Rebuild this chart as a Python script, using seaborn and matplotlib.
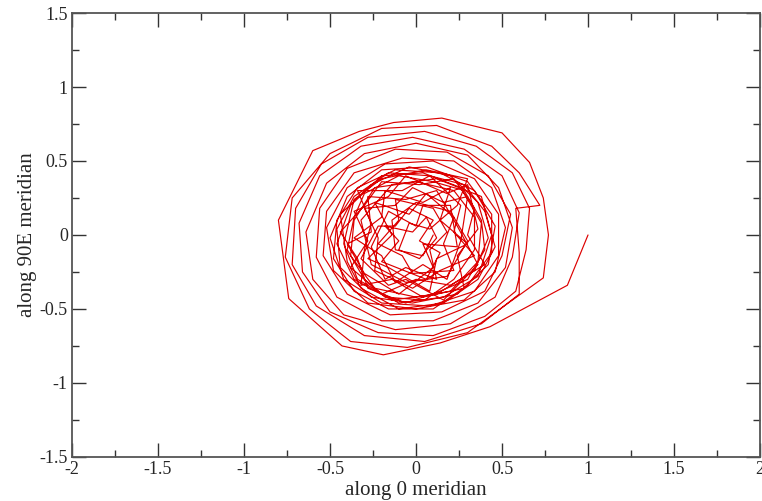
import numpy as np
import pandas as pd
import seaborn as sns
import matplotlib.pyplot as plt
from matplotlib.ticker import MultipleLocator, FormatStrFormatter

# trajectory, as (along 0, along 90E) pairs
# outer loops, starting at (1, 0) and winding clockwise inwards
outer_pts = [
    (1.00, 0.00), (0.88, -0.34), (0.43, -0.62), (0.14, -0.73), (-0.19, -0.81), (-0.43, -0.75),
    (-0.74, -0.43), (-0.80, 0.10), (-0.60, 0.57), (-0.33, 0.70), (-0.13, 0.76), (0.15, 0.79),
    (0.50, 0.69), (0.66, 0.49), (0.74, 0.25), (0.77, 0.00), (0.74, -0.29), (0.56, -0.44),
    (0.30, -0.66), (-0.05, -0.76), (-0.38, -0.72), (-0.62, -0.50), (-0.76, -0.15), (-0.72, 0.25),
    (-0.50, 0.55), (-0.20, 0.72), (0.12, 0.74), (0.44, 0.60), (0.60, 0.42), (0.72, 0.20),
    (0.58, 0.18), (0.60, -0.12), (0.60, -0.40),
    (0.38, -0.60), (0.05, -0.72), (-0.30, -0.68), (-0.58, -0.48), (-0.72, -0.20), (-0.70, 0.18),
    (-0.55, 0.48), (-0.28, 0.66), (0.05, 0.70), (0.35, 0.60), (0.56, 0.42), (0.66, 0.18),
    (0.64, -0.10), (0.58, -0.38),
    (0.40, -0.55), (0.10, -0.68), (-0.22, -0.66), (-0.50, -0.52), (-0.66, -0.25), (-0.68, 0.08),
    (-0.56, 0.40), (-0.32, 0.60), (-0.02, 0.66), (0.28, 0.58), (0.50, 0.40), (0.60, 0.15),
    (0.56, -0.15), (0.46, -0.42),
    (0.20, -0.60), (-0.12, -0.64), (-0.42, -0.54), (-0.60, -0.30), (-0.64, 0.02), (-0.52, 0.35),
    (-0.30, 0.55), (0.00, 0.62), (0.30, 0.54), (0.48, 0.32), (0.56, 0.05), (0.52, -0.22),
    (0.36, -0.46),
    (0.10, -0.58), (-0.20, -0.58), (-0.46, -0.42), (-0.58, -0.15), (-0.56, 0.18), (-0.40, 0.45),
    (-0.12, 0.58), (0.18, 0.56), (0.42, 0.40), (0.55, 0.14), (0.50, -0.14), (0.40, -0.38),
    (0.15, -0.52), (-0.15, -0.54), (-0.40, -0.40), (-0.54, -0.14), (-0.52, 0.16), (-0.36, 0.42),
    (-0.08, 0.52), (0.22, 0.50), (0.44, 0.32), (0.52, 0.05), (0.46, -0.25), (0.28, -0.44),
    (0.00, -0.50), (-0.28, -0.46), (-0.48, -0.24), (-0.52, 0.05), (-0.40, 0.32), (-0.18, 0.48),
    (0.10, 0.50), (0.34, 0.38), (0.48, 0.14), (0.48, -0.14), (0.34, -0.38),
    (0.08, -0.48), (-0.20, -0.46), (-0.42, -0.30), (-0.50, -0.02), (-0.40, 0.26), (-0.20, 0.44),
    (0.06, 0.46), (0.30, 0.36), (0.44, 0.14), (0.44, -0.12), (0.30, -0.34),
]

# middle loops, radius about 0.35 to 0.5
middle_pts = [
    (0.10, -0.50), (-0.16, -0.50), (-0.36, -0.38), (-0.48, -0.16), (-0.46, 0.10), (-0.34, 0.32),
    (-0.12, 0.44), (0.14, 0.42), (0.34, 0.30), (0.46, 0.06), (0.42, -0.20), (0.24, -0.40),
    (-0.02, -0.46), (-0.26, -0.42), (-0.44, -0.22), (-0.46, 0.04), (-0.36, 0.26), (-0.16, 0.42),
    (0.08, 0.40), (0.28, 0.34), (0.40, 0.16), (0.46, -0.08), (0.36, -0.30), (0.16, -0.46),
    (-0.10, -0.50), (-0.32, -0.36), (-0.40, -0.18), (-0.44, 0.14), (-0.26, 0.34), (-0.04, 0.46),
    (0.20, 0.40), (0.36, 0.22), (0.42, -0.02), (0.34, -0.24), (0.12, -0.40),
    (-0.14, -0.44), (-0.36, -0.30), (-0.46, -0.06), (-0.38, 0.20), (-0.20, 0.40), (0.04, 0.42),
    (0.26, 0.32), (0.38, 0.08), (0.36, -0.18), (0.20, -0.38),
    (0.00, -0.42), (-0.24, -0.36), (-0.38, -0.14), (-0.36, 0.10), (-0.24, 0.32), (0.00, 0.36),
    (0.22, 0.30), (0.34, 0.12), (0.34, -0.10), (0.22, -0.30),
]

# dense, jagged centre
centre_pts = [
    (0.05, -0.44), (-0.18, -0.42), (-0.30, -0.30), (-0.40, -0.10), (-0.36, 0.12), (-0.30, 0.28),
    (-0.10, 0.40), (0.10, 0.36), (0.28, 0.30), (0.38, 0.10), (0.40, -0.10), (0.30, -0.30),
    (0.14, -0.38), (-0.06, -0.46), (-0.28, -0.36), (-0.34, -0.16), (-0.44, 0.02), (-0.30, 0.20),
    (-0.20, 0.36), (0.02, 0.34), (0.22, 0.38), (0.34, 0.18), (0.30, 0.00), (0.40, -0.20),
    (0.20, -0.34),
    (0.00, -0.30), (-0.20, -0.40), (-0.38, -0.22), (-0.28, -0.04), (-0.36, 0.16), (-0.16, 0.26),
    (-0.06, 0.40), (0.18, 0.28), (0.30, 0.34), (0.36, 0.04), (0.24, -0.14), (0.28, -0.36),
    (0.04, -0.42), (-0.14, -0.30), (-0.32, -0.34), (-0.30, -0.10), (-0.26, 0.08), (-0.34, 0.30),
    (-0.08, 0.30), (0.08, 0.40), (0.26, 0.20), (0.22, 0.02), (0.34, -0.14), (0.14, -0.24),
    (-0.02, -0.36), (-0.24, -0.24), (-0.22, -0.02), (-0.30, 0.18), (-0.12, 0.20), (-0.02, 0.32),
    (0.16, 0.22), (0.30, 0.26), (0.26, -0.04), (0.18, -0.30), (0.04, -0.20),
    (-0.12, -0.32), (-0.20, -0.14), (-0.36, -0.02), (-0.20, 0.12), (-0.18, 0.30), (0.04, 0.22),
    (0.20, 0.32), (0.14, 0.10), (0.30, -0.06), (0.12, -0.16), (0.08, -0.38),
    (-0.16, -0.22), (-0.28, -0.16), (-0.14, 0.00), (-0.24, 0.22), (-0.04, 0.14), (0.06, 0.28),
    (0.22, 0.12), (0.16, -0.06), (0.22, -0.24), (-0.02, -0.26),
    (-0.08, -0.14), (-0.22, -0.06), (-0.10, 0.10), (-0.12, 0.24), (0.10, 0.18), (0.18, 0.02),
    (0.08, -0.10), (0.12, -0.30), (-0.06, -0.22),
    (-0.18, -0.30), (-0.26, -0.08), (-0.16, 0.16), (0.00, 0.06), (0.04, 0.20), (0.20, 0.20),
    (0.24, -0.08), (0.04, -0.06), (0.10, -0.22),
    (-0.10, -0.40), (-0.30, -0.26), (-0.40, -0.06), (-0.26, 0.02), (-0.28, 0.26), (-0.06, 0.24),
    (0.12, 0.30), (0.24, 0.06), (0.36, -0.20), (0.16, -0.44),
    (-0.06, -0.30), (-0.16, -0.34), (-0.32, -0.16), (-0.22, 0.06), (-0.12, 0.06), (-0.04, 0.18),
    (0.10, 0.10), (0.02, -0.04), (0.14, -0.12), (0.06, -0.30),
    (-0.20, -0.18), (-0.10, -0.04), (-0.18, 0.06), (-0.02, 0.02), (0.06, 0.12), (0.12, -0.02),
    (0.02, -0.16), (-0.10, -0.10), (-0.04, 0.08), (0.08, 0.04),
    (0.24, 0.20), (0.30, 0.38), (0.06, 0.44), (-0.20, 0.38), (-0.36, 0.24), (-0.42, -0.06),
    (-0.34, -0.30), (-0.10, -0.46), (0.16, -0.42), (0.36, -0.28), (0.44, 0.00), (0.38, 0.26),
    (0.12, 0.38),
    (-0.14, 0.34), (-0.32, 0.10), (-0.26, -0.20), (-0.06, -0.32), (0.18, -0.28), (0.30, -0.04),
    (0.20, 0.16), (0.00, 0.22), (-0.14, 0.10), (-0.12, -0.10), (0.04, -0.14), (0.10, 0.00),
]

x_ticks = [-2, -1.5, -1, -0.5, 0, 0.5, 1, 1.5, 2]
y_ticks = [-1.5, -1, -0.5, 0, 0.5, 1, 1.5]

path = outer_pts + middle_pts + centre_pts
df = pd.DataFrame(path, columns=["x", "y"])

sns.set_style("ticks")
plt.rcParams['font.family'] = ['Liberation Serif', 'DejaVu Serif']
plt.rcParams['axes.unicode_minus'] = False

fig = plt.figure(figsize=(7.62, 5.01), dpi=100)
ax = fig.add_axes([0.0945, 0.088, 0.9029, 0.886])

sns.lineplot(data=df, x="x", y="y", sort=False, estimator=None,
             color="#dd0000", linewidth=0.85, ax=ax)

ax.set_xlim(-2, 2)
ax.set_ylim(-1.5, 1.5)
ax.set_xticks(x_ticks)
ax.set_yticks(y_ticks)
ax.xaxis.set_minor_locator(MultipleLocator(0.25))
ax.yaxis.set_minor_locator(MultipleLocator(0.25))
ax.xaxis.set_major_formatter(FormatStrFormatter('%g'))
ax.yaxis.set_major_formatter(FormatStrFormatter('%g'))
ax.tick_params(which='both', direction='in', top=True, right=True,
               color='#333333', width=1, labelsize=13, pad=3)
ax.tick_params(which='major', length=10)
ax.tick_params(which='minor', length=5)
for sp in ax.spines.values():
    sp.set_color('#555555')
    sp.set_linewidth(1.3)

ax.set_xlabel("along 0 meridian", fontsize=15, labelpad=2)
ax.set_ylabel("along 90E meridian", fontsize=15, labelpad=2)

fig.savefig("out.png", dpi=100)
